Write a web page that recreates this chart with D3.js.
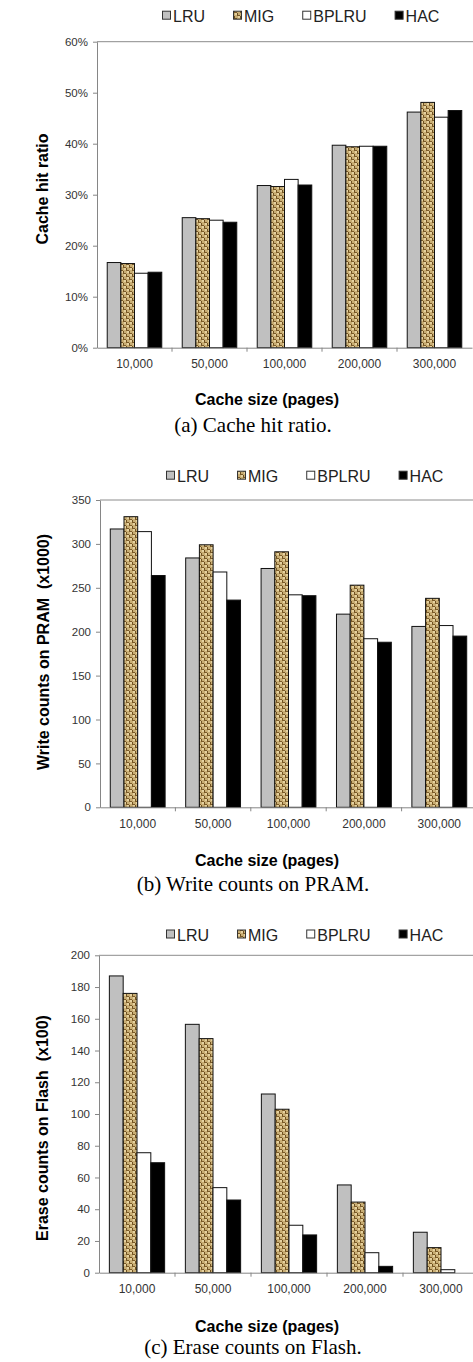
<!DOCTYPE html>
<html>
<head>
<meta charset="utf-8">
<script src="https://cdn.jsdelivr.net/npm/d3@7"></script>
<style>
  body { margin: 0; background: #fff; }
  svg { display: block; }
  text { font-family: "Liberation Sans", Arial, sans-serif; }
</style>
</head>
<body>
<svg id="fig" width="473" height="1362"></svg>
<script>
// categories and series
const cacheSizes = ["10,000", "50,000", "100,000", "200,000", "300,000"];
const policies = ["LRU", "MIG", "BPLRU", "HAC"];

// (a) cache hit ratio, one row per policy
const hitRatio = [
    [0.167, 0.255, 0.318, 0.397, 0.462],
    [0.165, 0.253, 0.316, 0.394, 0.481],
    [0.146, 0.250, 0.330, 0.395, 0.452],
    [0.148, 0.246, 0.319, 0.395, 0.465]
];
const hitTicks = [0, 0.1, 0.2, 0.3, 0.4, 0.5, 0.6];

// (b) write counts on PRAM (x1000)
const pramWrites = [
    [317, 284, 272, 220, 206],
    [331, 299, 291, 253, 238],
    [314, 268, 242, 192, 207],
    [264, 236, 241, 188, 195]
];
const pramTicks = [0, 50, 100, 150, 200, 250, 300, 350];

// (c) erase counts on flash (x100)
const flashErases = [
    [187, 156.5, 112.6, 55.3, 25.5],
    [176, 147.5, 103, 44.5, 15.8],
    [75.6, 53.6, 29.9, 12.6, 1.9],
    [69.3, 45.8, 23.8, 4, 0]
];
const flashTicks = [0, 20, 40, 60, 80, 100, 120, 140, 160, 180, 200];

const svg = d3.select("#fig");

// burlap texture for MIG
const defs = svg.append("defs");
const pat = defs.append("pattern")
    .attr("id", "burlap")
    .attr("patternUnits", "userSpaceOnUse")
    .attr("width", 6).attr("height", 6);
pat.append("rect").attr("width", 6).attr("height", 6).attr("fill", "#c9ae74");
[[0, 0, 3, 1, "#7a5a28"], [3, 1, 1, 2, "#6e5020"], [3, 3, 3, 1, "#7a5a28"], [0, 4, 1, 2, "#6e5020"],
 [1, 1, 2, 2, "#e6d2a0"], [4, 4, 2, 2, "#e6d2a0"]].forEach(r => {
    pat.append("rect").attr("x", r[0]).attr("y", r[1]).attr("width", r[2]).attr("height", r[3]).attr("fill", r[4]);
});

const fills = {LRU: "#c0c0c0", MIG: "url(#burlap)", BPLRU: "#ffffff", HAC: "#000000"};

function drawChart(cfg) {
    const g = svg.append("g");

    const x0 = d3.scaleBand().domain(cacheSizes).range([cfg.left, cfg.right]).padding(0);
    const x1 = d3.scaleBand().domain(policies).range([0, x0.bandwidth()])
        .paddingInner(0).paddingOuter(0.75);
    const y = d3.scaleLinear().domain([0, cfg.max]).range([cfg.bottom, cfg.top]);

    // plot frame top line
    g.append("line")
        .attr("x1", cfg.left).attr("x2", 473)
        .attr("y1", cfg.top).attr("y2", cfg.top)
        .attr("stroke", "#8c8c8c").attr("stroke-width", 1);

    // bars
    policies.forEach((p, i) => {
        g.append("g").selectAll("rect")
            .data(cfg.values[i])
            .join("rect")
            .attr("x", (d, j) => x0(cacheSizes[j]) + x1(p))
            .attr("y", d => y(d))
            .attr("width", x1.bandwidth())
            .attr("height", d => y(0) - y(d))
            .attr("fill", fills[p])
            .attr("stroke", "#111")
            .attr("stroke-width", 1);
    });

    // y axis
    const yAxis = g.append("g")
        .attr("transform", `translate(${cfg.left},0)`)
        .call(d3.axisLeft(y).tickValues(cfg.ticks).tickFormat(cfg.format)
            .tickSize(4).tickSizeOuter(0).tickPadding(5));
    yAxis.select(".domain").attr("stroke", "#868686");
    yAxis.selectAll(".tick line").attr("stroke", "#868686");
    yAxis.selectAll(".tick text")
        .style("font-size", "11.5px").attr("fill", "#333");

    // x axis
    const xAxis = g.append("g")
        .attr("transform", `translate(0,${cfg.bottom})`)
        .call(d3.axisBottom(x0).tickSize(0).tickPadding(0));
    xAxis.select(".domain").attr("stroke", "#868686");
    xAxis.selectAll(".tick text")
        .attr("y", 20.5).attr("dy", null)
        .style("font-size", "12px").attr("fill", "#333");
    g.append("g").selectAll("line")
        .data(cacheSizes.slice(1))
        .join("line")
        .attr("x1", d => x0(d)).attr("x2", d => x0(d))
        .attr("y1", cfg.bottom).attr("y2", cfg.bottom + 4)
        .attr("stroke", "#868686");

    // axis titles
    g.append("text")
        .attr("transform", `translate(${cfg.yTitleX},${cfg.yTitleY}) rotate(-90)`)
        .attr("text-anchor", "middle")
        .attr("dy", "0.35em")
        .style("font-size", "16px").style("font-weight", "bold")
        .style("white-space", "pre")
        .text(cfg.yTitle);
    g.append("text")
        .attr("x", 267).attr("y", cfg.xTitleY)
        .attr("text-anchor", "middle")
        .style("font-size", "16px").style("font-weight", "bold")
        .text("Cache size (pages)");

    // caption
    g.append("text")
        .attr("x", 253).attr("y", cfg.captionY)
        .attr("text-anchor", "middle")
        .style("font-family", "'Liberation Serif', 'Times New Roman', serif")
        .style("font-size", "21px")
        .text(cfg.caption);

    // legend
    const leg = g.append("g");
    let lx = cfg.legendX;
    policies.forEach(p => {
        leg.append("rect")
            .attr("x", lx + 0.5).attr("y", cfg.legendY - 10.5)
            .attr("width", 8).attr("height", 8)
            .attr("fill", fills[p]).attr("stroke", "#333");
        const t = leg.append("text")
            .attr("x", lx + 11).attr("y", cfg.legendY)
            .style("font-size", "16px").attr("fill", "#222")
            .text(p);
        lx += 11 + t.node().getComputedTextLength() + 28;
    });
}

drawChart({
    values: hitRatio, ticks: hitTicks, max: 0.6, format: d3.format(".0%"),
    left: 97, right: 472, top: 41.7, bottom: 347.7,
    yTitle: "Cache hit ratio", yTitleX: 42.5, yTitleY: 189,
    xTitleY: 405, caption: "(a) Cache hit ratio.", captionY: 432,
    legendX: 162, legendY: 21.7
});

drawChart({
    values: pramWrites, ticks: pramTicks, max: 350, format: d3.format("d"),
    left: 100, right: 477, top: 500, bottom: 807.3,
    yTitle: "Write counts on PRAM  (x1000)", yTitleX: 43.5, yTitleY: 652,
    xTitleY: 866, caption: "(b) Write counts on PRAM.", captionY: 891,
    legendX: 166, legendY: 481.7
});

drawChart({
    values: flashErases, ticks: flashTicks, max: 200, format: d3.format("d"),
    left: 99, right: 479, top: 955.3, bottom: 1272.7,
    yTitle: "Erase counts on Flash  (x100)", yTitleX: 42.5, yTitleY: 1128,
    xTitleY: 1332, caption: "(c) Erase counts on Flash.", captionY: 1354,
    legendX: 166, legendY: 940.5
});
</script>
</body>
</html>
